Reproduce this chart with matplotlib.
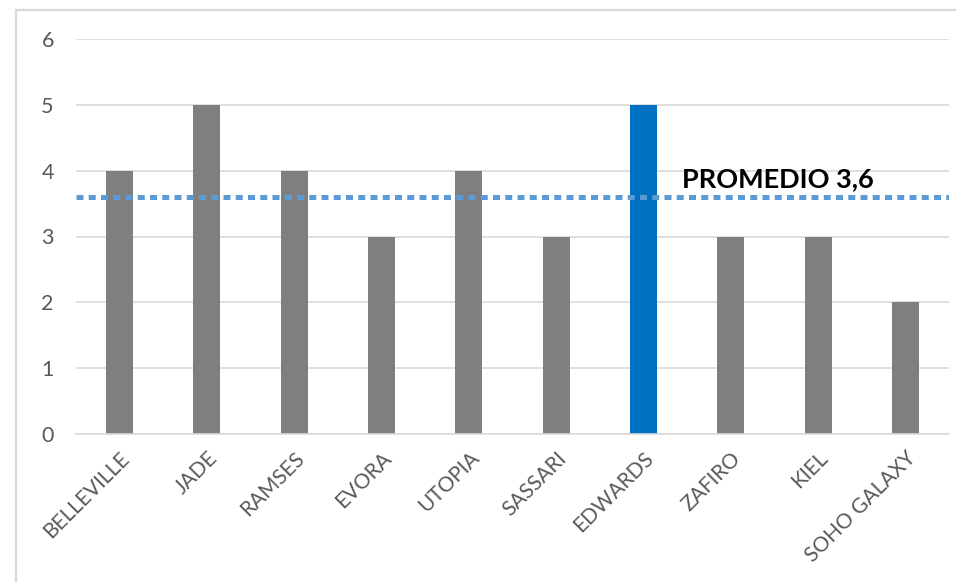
import matplotlib
matplotlib.use("Agg")
import matplotlib.pyplot as plt
from matplotlib.patches import Rectangle

# Data
categories = ["BELLEVILLE", "JADE", "RAMSES", "EVORA", "UTOPIA",
              "SASSARI", "EDWARDS", "ZAFIRO", "KIEL", "SOHO GALAXY"]
values = [4, 5, 4, 3, 4, 3, 5, 3, 3, 2]
highlight = "EDWARDS"
y_ticks = [0, 1, 2, 3, 4, 5, 6]

average = sum(values) / len(values)
average_label = "PROMEDIO " + f"{average:.1f}".replace(".", ",")

plt.rcParams["font.family"] = ["Lato", "DejaVu Sans"]

fig = plt.figure(figsize=(9.56, 5.82), dpi=100)
fig.patch.set_facecolor("white")

# outer chart frame
fig.patches.append(Rectangle((16 / 956, -0.05), 1.1, 1 - 10 / 582 + 0.05,
                             transform=fig.transFigure, fill=False,
                             edgecolor="#d9d9d9", linewidth=1.6, zorder=0))

ax = fig.add_axes([76 / 956, 1 - 434 / 582, (949 - 76) / 956, (434 - 39) / 582])

x = list(range(len(categories)))
colors = ["#0070c0" if c == highlight else "#7f7f7f" for c in categories]
ax.bar(x, values, width=0.31, color=colors, zorder=2)

ax.set_xlim(-0.5, len(categories) - 0.5)
ax.set_ylim(0, 6)
ax.set_yticks(y_ticks)
ax.set_yticklabels([str(t) for t in y_ticks])
ax.yaxis.grid(True, color="#d9d9d9", linewidth=1.2, zorder=0)
ax.set_axisbelow(True)

for side in ["top", "right", "left"]:
    ax.spines[side].set_visible(False)
ax.spines["bottom"].set_color("#d9d9d9")
ax.spines["bottom"].set_linewidth(1.2)

ax.tick_params(axis="y", length=0, pad=16, labelsize=15.5, labelcolor="#595959")
ax.tick_params(axis="x", length=0, pad=10, labelsize=15, labelcolor="#595959")
ax.set_xticks(x)
ax.set_xticklabels(categories, rotation=45, ha="right", rotation_mode="anchor")

# average line
ax.plot([-0.5, len(categories) - 0.5], [average, average], color="#5b9bd5",
        linewidth=3.6, linestyle=(0, (1.4, 1.05)), solid_capstyle="butt",
        dash_capstyle="butt", zorder=3)
ax.annotate(average_label, xy=(6.44, average), xytext=(0, 4),
            textcoords="offset points", ha="left", va="bottom",
            fontsize=19.5, fontweight="bold", color="black")

fig.savefig("out.png", dpi=100)
